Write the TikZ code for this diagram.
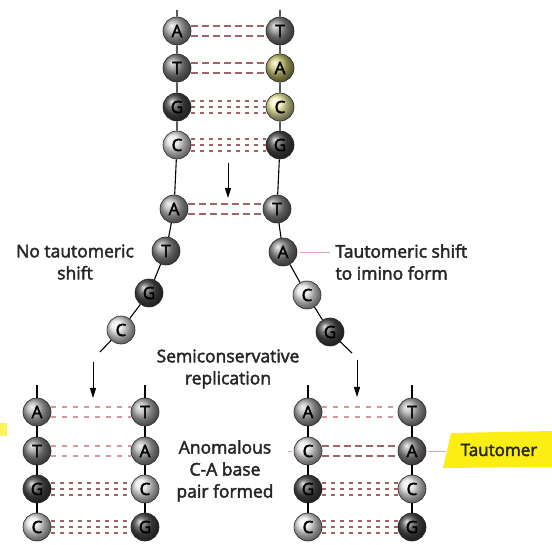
\documentclass[tikz,border=0pt]{standalone}
\usepackage{fontspec}
\setmainfont{Open Sans}
\newfontfamily\lblfont{Open Sans}[FakeBold=2.5]
\newfontfamily\basefont{Open Sans}[FakeBold=2.5]
\usetikzlibrary{arrows.meta}
\definecolor{pairc}{RGB}{160,100,100}
\definecolor{pairlight}{RGB}{215,150,155}
\definecolor{leader}{RGB}{228,165,175}
\definecolor{hilite}{RGB}{250,238,20}
\definecolor{bA}{RGB}{175,175,175}
\definecolor{bT}{RGB}{135,135,135}
\definecolor{bG}{RGB}{75,75,75}
\definecolor{bC}{RGB}{232,232,232}
\definecolor{yA}{RGB}{200,195,110}
\definecolor{yC}{RGB}{242,242,170}
\begin{document}
\begin{tikzpicture}[x=1pt,y=-1pt,
  base/.style={circle, draw=black!85, line width=0.6pt, minimum size=28pt, inner sep=0pt,
    font=\basefont\fontsize{17}{17}\selectfont, text=black, ball color=#1},
  backbone/.style={line width=1.1pt, black},
  atp/.style={pairc, line width=1.6pt, dash pattern=on 7pt off 4pt},
  atl/.style={pairlight, line width=1.4pt, dash pattern=on 5pt off 6pt},
  gcp/.style={pairc, line width=1.4pt, dash pattern=on 4pt off 5pt},
  arr/.style={line width=1pt, -{Triangle[length=10pt,width=6pt]}},
  lbl/.style={font=\lblfont\fontsize{17.5}{22}\selectfont, align=center, text=black!85},
  leaderline/.style={leader, line width=0.8pt}]
\useasboundingbox (0,0) rectangle (552,545);

% ---------- top duplex ----------
\coordinate (ttl) at (177,10);
\coordinate (ttr) at (280,10);
\node[base=bA] (t1l) at (177,31) {A};
\node[base=bT] (t1r) at (280,31) {T};
\node[base=bT] (t2l) at (177,68) {T};
\node[base=yA] (t2r) at (280,68) {A};
\node[base=bG] (t3l) at (177,107) {G};
\node[base=yC] (t3r) at (280,107) {C};
\node[base=bC] (t4l) at (177,145) {C};
\node[base=bG] (t4r) at (280,145) {G};

% ---------- fork ----------
\node[base=bA] (m0l) at (174,209) {A};
\node[base=bT] (m0r) at (277,209) {T};
\node[base=bT] (l1) at (166,251) {T};
\node[base=bG] (l2) at (149,293) {G};
\node[base=bC] (l3) at (121,330) {C};
\node[base=bT] (r1) at (283,252) {A};
\node[base=bC] (r2) at (307,295) {C};
\node[base=bG] (r3) at (330,332) {G};
\coordinate (lend) at (100,352);
\coordinate (rend) at (352,353);

% ---------- bottom left duplex ----------
\coordinate (blt) at (37,385);
\coordinate (blr) at (145,385);
\node[base=bA] (bl1l) at (37,412) {A};
\node[base=bA] (bl1r) at (145,412) {T};
\node[base=bT] (bl2l) at (37,451) {T};
\node[base=bA] (bl2r) at (145,451) {A};
\node[base=bG] (bl3l) at (37,489) {G};
\node[base=bC] (bl3r) at (145,489) {C};
\node[base=bC] (bl4l) at (37,527) {C};
\node[base=bG] (bl4r) at (145,527) {G};

% ---------- bottom right duplex ----------
\coordinate (brt) at (308,385);
\coordinate (brr) at (412,385);
\node[base=bA] (br1l) at (308,412) {A};
\node[base=bA] (br1r) at (412,412) {T};
\node[base=bC] (br2l) at (308,451) {C};
\node[base=bT] (br2r) at (412,451) {A};
\node[base=bG] (br3l) at (308,489) {G};
\node[base=bC] (br3r) at (412,489) {C};
\node[base=bC] (br4l) at (308,527) {C};
\node[base=bG] (br4r) at (412,527) {G};

% ---------- backbones ----------
\draw[backbone] (ttl) -- (t1l) -- (t2l) -- (t3l) -- (t4l) -- (m0l) -- (l1) -- (l2) -- (l3) -- (lend);
\draw[backbone] (ttr) -- (t1r) -- (t2r) -- (t3r) -- (t4r) -- (m0r) -- (r1) -- (r2) -- (r3) -- (rend);
\draw[backbone] (blt) -- (bl1l) -- (bl2l) -- (bl3l) -- (bl4l);
\draw[backbone] (blr) -- (bl1r) -- (bl2r) -- (bl3r) -- (bl4r);
\draw[backbone] (brt) -- (br1l) -- (br2l) -- (br3l) -- (br4l);
\draw[backbone] (brr) -- (br1r) -- (br2r) -- (br3r) -- (br4r);

% ---------- base pairs ----------
\foreach \a/\b in {t1l/t1r, t2l/t2r, m0l/m0r}{
  \draw[atp] ([yshift=-5pt]\a.east) -- ([yshift=-5pt]\b.west);
  \draw[atp] ([yshift=5pt]\a.east) -- ([yshift=5pt]\b.west);
}
\foreach \a/\b in {t3l/t3r, t4l/t4r, bl3l/bl3r, bl4l/bl4r, br3l/br3r, br4l/br4r}{
  \draw[gcp] ([yshift=-6pt]\a.east) -- ([yshift=-6pt]\b.west);
  \draw[gcp] (\a.east) -- (\b.west);
  \draw[gcp] ([yshift=6pt]\a.east) -- ([yshift=6pt]\b.west);
}
\foreach \a/\b in {bl1l/bl1r, bl2l/bl2r, br1l/br1r}{
  \draw[atl] ([yshift=-5pt]\a.east) -- ([yshift=-5pt]\b.west);
  \draw[atl] ([yshift=5pt]\a.east) -- ([yshift=5pt]\b.west);
}
\draw[atp] ([yshift=-5pt]br2l.east) -- ([yshift=-5pt]br2r.west);
\draw[atp] ([yshift=5pt]br2l.east) -- ([yshift=5pt]br2r.west);

% ---------- arrows ----------
\coordinate (a1s) at (228,163); \coordinate (a1e) at (228,198);
\coordinate (a2s) at (93,362);  \coordinate (a2e) at (93,398);
\coordinate (a3s) at (357,360); \coordinate (a3e) at (357,397);
\draw[arr] (a1s) -- (a1e);
\draw[arr] (a2s) -- (a2e);
\draw[arr] (a3s) -- (a3e);

% ---------- labels ----------
\node[lbl] (nots) at (75,262) {No tautomeric\\shift};
\node[lbl, align=left, anchor=west] (tshift) at (332,262) {Tautomeric shift\\to imino form};
\node[lbl] (semi) at (228,369) {Semiconservative\\replication};
\node[lbl] (anom) at (225,471) {Anomalous\\C-A base\\pair formed};
\draw[leaderline, shorten <=3pt, shorten >=2pt] (r1.east) -- (r1.east -| tshift.west);

% tautomer highlight
\fill[hilite] (451,433) -- (552,431) -- (552,467) -- (443,468) -- cycle;
\node[font=\lblfont\fontsize{17}{20}\selectfont, text=black!85] (taut) at (499,450) {Tautomer};
\coordinate (hl) at (446,451);
\draw[leaderline, shorten <=2pt] (br2r.east) -- (hl);
\coordinate (cl) at (288,451);
\draw[leaderline, shorten <=2pt] (br2l.west) -- (cl);

% highlighter smear at the left edge
\fill[hilite!70] (0,423) rectangle (7,436);
\end{tikzpicture}
\end{document}
